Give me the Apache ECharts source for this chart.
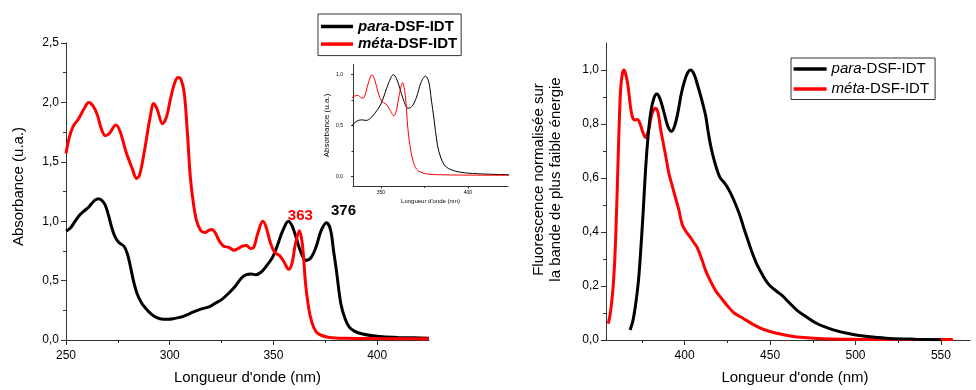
<!DOCTYPE html>
<html><head><meta charset="utf-8">
<script src="https://cdn.jsdelivr.net/npm/echarts@6/dist/echarts.min.js"></script>
<style>html,body{margin:0;padding:0;background:#fff}#c{width:976px;height:390px}</style>
</head><body><div id="c"></div>
<script>
// ---------- DATA ----------
const seriesNames = ['para-DSF-IDT', 'méta-DSF-IDT'];

// Absorption (left chart) - para
const paraAbsNm  = [250,252,254,256.7,259,261,263.5,265.5,267,268.8,270.5,272,273.6,275.5,277.9,279.5,280.8,282.5,284.3,286.5,288.8,291,293.5,296.8,299.5,302,304.8,308,311.2,315,319.2,322,325,328.8,331.5,334.5,337,339.3,341.5,344,346.5,349.7,352,354.5,357.2,359,361,363,365.7,368,370.5,373,375.6,377.5,379,380.4,382.5,384.5,386.5,389,393,398,402.6,410,418,425];
const paraAbsVal = [0.917,0.94,0.99,1.055,1.09,1.12,1.17,1.19,1.18,1.14,1.05,0.95,0.87,0.82,0.79,0.73,0.64,0.50,0.39,0.31,0.26,0.22,0.19,0.175,0.175,0.18,0.19,0.21,0.235,0.26,0.28,0.31,0.34,0.40,0.45,0.52,0.55,0.555,0.55,0.57,0.62,0.70,0.80,0.92,1.00,0.96,0.86,0.75,0.67,0.69,0.78,0.92,0.986,0.93,0.75,0.58,0.305,0.18,0.11,0.075,0.05,0.035,0.028,0.022,0.018,0.015];

// Absorption (left chart) - méta
const metaAbsNm  = [250,251.5,253.5,256,258.5,261,263,265,267,269,271,274,276,279,282,284,285.5,288,290.5,292.3,294,296.5,298.5,300.5,302.5,304,305.5,307,308.5,310,311.5,313,315,317,319,320.5,322,324,326,328.5,331,333,335,337,339,340.5,342.5,344.9,346.5,348.5,350.5,353,355,357.4,359,360.5,362.5,364,365.5,367,368.5,370.5,373,377,385,400,425];
const metaAbsVal = [1.57,1.70,1.80,1.86,1.94,2.00,1.97,1.90,1.78,1.72,1.74,1.81,1.76,1.58,1.44,1.36,1.39,1.61,1.87,1.99,1.94,1.82,1.88,2.04,2.17,2.21,2.19,2.08,1.75,1.36,1.14,1.00,0.92,0.905,0.925,0.93,0.90,0.83,0.79,0.78,0.755,0.77,0.79,0.795,0.77,0.78,0.90,1.00,0.95,0.82,0.74,0.71,0.66,0.595,0.65,0.80,0.92,0.80,0.47,0.27,0.15,0.07,0.04,0.022,0.015,0.012,0.01];

// Fluorescence (right chart) - para
const paraFluoNm  = [368.1,369.7,371.4,373,374.3,375.8,377.2,378.7,380.2,382,383.7,385.5,387.9,390,392.2,394,396.1,398,400,401.8,403.5,405.5,407.4,410,412.3,413.8,415.2,416.7,418.1,419.5,421,423.5,425.9,428.3,430.7,432.7,434.6,437,439.5,442.3,445.3,448.7,452.1,454.6,457,461.4,465.8,471.6,477.4,483.2,489.1,495,502,510,520,535,550];
const paraFluoVal = [0.037,0.07,0.134,0.22,0.33,0.48,0.636,0.76,0.844,0.895,0.911,0.895,0.844,0.795,0.773,0.79,0.844,0.91,0.96,0.99,1.0,0.985,0.948,0.89,0.831,0.77,0.721,0.68,0.648,0.62,0.599,0.58,0.556,0.525,0.489,0.455,0.416,0.37,0.324,0.28,0.244,0.21,0.189,0.177,0.165,0.137,0.11,0.084,0.061,0.046,0.034,0.025,0.017,0.011,0.006,0.003,0.001];

// Fluorescence (right chart) - méta
const metaFluoNm  = [355.3,356.3,357.2,358.2,359.2,360.2,361.1,362,362.7,363.7,364.6,365.7,366.9,368.2,369.5,371,372.4,374,375.5,377.2,379,381,383.1,384.5,386,387,389,390.8,392.8,394.7,396.7,398.6,401,403.5,405.5,407.4,410,412.3,415,418.1,421.5,424.9,429,434.6,440,446.3,454,461.8,470,481.3,500,530,557];
const metaFluoVal = [0.061,0.09,0.134,0.20,0.306,0.48,0.672,0.85,0.94,0.99,1.0,0.98,0.94,0.87,0.825,0.815,0.817,0.80,0.77,0.75,0.78,0.84,0.858,0.84,0.78,0.746,0.68,0.617,0.57,0.526,0.48,0.428,0.40,0.379,0.36,0.342,0.30,0.257,0.22,0.183,0.155,0.128,0.10,0.079,0.058,0.039,0.025,0.015,0.009,0.005,0.003,0.002,0.002];

// Peak annotations
const metaPeak = { text: '363', nm: 362.5, value: 0.92 };
const paraPeak = { text: '376', nm: 375.6, value: 0.986 };

// Tick values
const absXTicks = [250, 300, 350, 400];
const absXMinor = [275, 325, 375];
const absYTicks = [0, 0.5, 1.0, 1.5, 2.0, 2.5];
const absYMinor = [0.25, 0.75, 1.25, 1.75, 2.25];
const fluoXTicks = [400, 450, 500, 550];
const fluoXMinor = [375, 425, 475, 525];
const fluoYTicks = [0, 0.2, 0.4, 0.6, 0.8, 1.0];
const fluoYMinor = [0.1, 0.3, 0.5, 0.7, 0.9];
const insetXTicks = [350, 400];
const insetXMinor = [375];
const insetYTicks = [0, 0.5, 1.0];
const insetYMinor = [0.25, 0.75];

// ---------- BUILD ----------
const FONT = 'Liberation Sans, Arial, sans-serif';
const zip = (xs, ys) => xs.map((x, i) => [x, ys[i]]);
const commaFmt = v => v.toFixed(1).replace('.', ',');
const intFmt = v => String(Math.round(v));
const AX = '#333';

function major(gridIndex, min, max, ticks, fmt, o) {
  o = o || {};
  return Object.assign({
    type: 'value', gridIndex, min, max,
    axisLine: { show: true, onZero: false, lineStyle: { color: AX, width: o.lw || 1 } },
    axisTick: { show: true, customValues: ticks, length: o.tl || 5, lineStyle: { color: AX, width: o.lw || 1 } },
    axisLabel: { customValues: ticks, formatter: fmt, fontSize: o.fs || 12, fontFamily: FONT, color: '#000', margin: o.margin || 8 },
    splitLine: { show: false }
  }, o.extra || {});
}
function minor(gridIndex, min, max, ticks, o) {
  o = o || {};
  return Object.assign({
    type: 'value', gridIndex, min, max,
    axisLine: { show: false, onZero: false },
    axisTick: { show: true, customValues: ticks, length: o.tl || 3, lineStyle: { color: AX, width: o.lw || 1 } },
    axisLabel: { show: false },
    splitLine: { show: false }
  }, o.extra || {});
}

const xAxis = [
  major(0, 250, 425, absXTicks, intFmt, { margin: 10, extra: {
    position: 'bottom',
    name: "Longueur d'onde (nm)", nameLocation: 'middle', nameGap: 30,
    nameTextStyle: { fontSize: 15, fontFamily: FONT, color: '#000' } } }),
  minor(0, 250, 425, absXMinor, { extra: { position: 'bottom' } }),
  major(1, 354, 567, fluoXTicks, intFmt, { margin: 10, extra: {
    position: 'bottom',
    name: "Longueur d'onde (nm)", nameLocation: 'middle', nameGap: 30,
    nameTextStyle: { fontSize: 15, fontFamily: FONT, color: '#000', padding: [0, 0, 0, 14] } } }),
  minor(1, 354, 567, fluoXMinor, { extra: { position: 'bottom' } }),
  major(2, 334, 423, insetXTicks, intFmt, { fs: 5, margin: 4, tl: 2, extra: {
    position: 'bottom',
    name: "Longueur d'onde (nm)", nameLocation: 'middle', nameGap: 12,
    nameTextStyle: { fontSize: 6, fontFamily: FONT, color: '#000' } } }),
  minor(2, 334, 423, insetXMinor, { tl: 1.5, extra: { position: 'bottom' } })
];
const yAxis = [
  major(0, 0, 2.5, absYTicks, commaFmt, { margin: 7, extra: {
    position: 'left',
    name: 'Absorbance (u.a.)', nameLocation: 'middle', nameGap: 40,
    nameTextStyle: { fontSize: 15, fontFamily: FONT, color: '#000', padding: [0, 0, 0, 10] } } }),
  minor(0, 0, 2.5, absYMinor, { extra: { position: 'left' } }),
  major(1, 0, 1.1, fluoYTicks, commaFmt, { margin: 7, extra: {
    position: 'left',
    name: 'Fluorescence normalisée sur\nla bande de plus faible énergie', nameLocation: 'middle', nameGap: 42,
    nameTextStyle: { fontSize: 15, lineHeight: 17, fontFamily: FONT, color: '#000', align: 'center', padding: [0, 0, 0, 24] } } }),
  minor(1, 0, 1.1, fluoYMinor, { extra: { position: 'left' } }),
  major(2, -0.1, 1.1, insetYTicks, commaFmt, { fs: 5, margin: 10, tl: 2, extra: {
    position: 'left',
    name: 'Absorbance (u.a.)', nameLocation: 'middle', nameGap: 22,
    nameTextStyle: { fontSize: 8, fontFamily: FONT, color: '#000' } } }),
  minor(2, -0.1, 1.1, insetYMinor, { tl: 1.5, extra: { position: 'left' } })
];

function line(name, data, color, xi, yi, width, extra) {
  return Object.assign({
    type: 'line', name, data, xAxisIndex: xi, yAxisIndex: yi,
    showSymbol: false, symbol: 'none', smooth: 0.35,
    lineStyle: { color, width }, itemStyle: { color },
    emphasis: { disabled: true }, silent: true
  }, extra || {});
}
function peakMark(p, color, offset, dist) {
  return {
    silent: true, symbol: 'circle', symbolSize: 0,
    label: { show: true, position: 'top', distance: dist, offset, formatter: p.text,
      fontSize: 15, fontWeight: 'bold', fontFamily: FONT, color },
    data: [{ coord: [p.nm, p.value] }]
  };
}

const series = [
  line(seriesNames[0], zip(paraAbsNm, paraAbsVal), '#000', 0, 0, 3,
    { markPoint: peakMark(paraPeak, '#000', [17, 0], 5) }),
  line(seriesNames[1], zip(metaAbsNm, metaAbsVal), '#ff0000', 0, 0, 3,
    { markPoint: peakMark(metaPeak, '#ff0000', [1, 0], 7) }),
  line(seriesNames[1], zip(metaFluoNm, metaFluoVal), '#ff0000', 2, 2, 3),
  line(seriesNames[0], zip(paraFluoNm, paraFluoVal), '#000', 2, 2, 3),
  line(seriesNames[0], zip(paraAbsNm, paraAbsVal), '#000', 4, 4, 1),
  line(seriesNames[1], zip(metaAbsNm, metaAbsVal), '#ff0000', 4, 4, 1)
];

function legendFmt(name) {
  const i = name.indexOf('-');
  return '{i|' + name.slice(0, i) + '}{n|' + name.slice(i) + '}';
}
function legend(left, top, bold, padding, itemGap, itemWidth) {
  const w = bold ? 'bold' : 'normal';
  return {
    data: seriesNames, orient: 'vertical', left, top, padding, itemGap,
    itemWidth, itemHeight: 3.5, icon: 'rect', selectedMode: false,
    borderColor: '#333', borderWidth: 1, backgroundColor: '#fff',
    formatter: legendFmt,
    textStyle: {
      fontSize: 15, fontFamily: FONT, color: '#000', fontWeight: w,
      rich: {
        i: { fontSize: 15, fontFamily: FONT, color: '#000', fontWeight: w, fontStyle: 'italic' },
        n: { fontSize: 15, fontFamily: FONT, color: '#000', fontWeight: w }
      }
    }
  };
}

const option = {
  backgroundColor: '#fff',
  animation: false,
  grid: [
    { left: 66, top: 43, width: 363, height: 300 },
    { left: 606, top: 43, width: 364, height: 300 },
    { left: 353, top: 64.5, width: 155, height: 122 }
  ],
  xAxis, yAxis, series,
  legend: [
    legend(318, 14, true, [5, 4, 4, 3], 2.6, 32),
    legend(791, 58, false, [3.5, 6, 3, 2.6], 5, 33)
  ]
};

const chart = echarts.init(document.getElementById('c'), null, { renderer: 'canvas' });
chart.setOption(option);
</script></body></html>
